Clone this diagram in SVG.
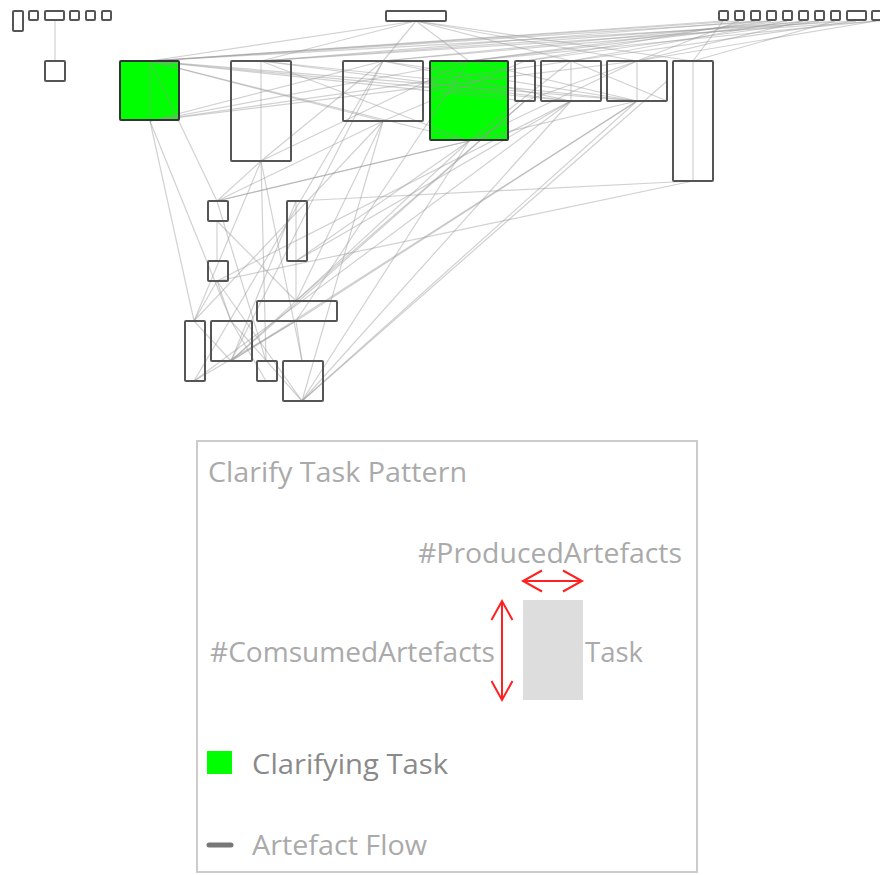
<svg xmlns="http://www.w3.org/2000/svg" width="880" height="875" viewBox="0 0 880 875">
<style>
.n{fill:#fff;fill-opacity:0;stroke:#555;stroke-width:2}
.g{fill:#00ff00;stroke:#333;stroke-width:2}
.e line{stroke:#999;stroke-opacity:0.45;stroke-width:1.2}
.t{font-family:"Open Sans","Noto Sans",sans-serif;font-size:28px;fill:#aaa}
.r{stroke:#ff2020;stroke-width:2;fill:none}
</style>
<rect width="880" height="875" fill="#fff"/>
<g id="nodes-fill">
<rect id="fill-g1" x="120" y="61" width="59" height="59" fill="#00ff00"/>
<rect id="fill-g2" x="430" y="61" width="78" height="79" fill="#00ff00"/>
</g>
<g id="connectors" class="e">
<line x1="55" y1="21" x2="55" y2="61"/>
<line x1="416" y1="21" x2="150" y2="61"/>
<line x1="416" y1="21" x2="261" y2="61"/>
<line x1="416" y1="21" x2="383" y2="61"/>
<line x1="416" y1="21" x2="469" y2="61"/>
<line x1="416" y1="21" x2="571" y2="61"/>
<line x1="416" y1="21" x2="637" y2="61"/>
<line x1="416" y1="21" x2="693" y2="61"/>
<line x1="723" y1="21" x2="150" y2="61"/>
<line x1="739" y1="21" x2="150" y2="61"/>
<line x1="755" y1="21" x2="261" y2="61"/>
<line x1="771" y1="21" x2="150" y2="61"/>
<line x1="787" y1="21" x2="383" y2="61"/>
<line x1="803" y1="21" x2="469" y2="61"/>
<line x1="819" y1="21" x2="261" y2="61"/>
<line x1="835" y1="21" x2="383" y2="61"/>
<line x1="856" y1="21" x2="150" y2="61"/>
<line x1="876" y1="21" x2="469" y2="61"/>
<line x1="856" y1="21" x2="571" y2="61"/>
<line x1="876" y1="21" x2="637" y2="61"/>
<line x1="835" y1="21" x2="693" y2="61"/>
<line x1="819" y1="21" x2="525" y2="61"/>
<line x1="803" y1="21" x2="637" y2="61"/>
<line x1="787" y1="21" x2="571" y2="61"/>
<line x1="771" y1="21" x2="469" y2="61"/>
<line x1="755" y1="21" x2="525" y2="61"/>
<line x1="739" y1="21" x2="637" y2="61"/>
<line x1="723" y1="21" x2="693" y2="61"/>
<line x1="880" y1="21" x2="261" y2="61"/>
<line x1="150" y1="61" x2="150" y2="121"/>
<line x1="261" y1="61" x2="261" y2="161"/>
<line x1="571" y1="61" x2="571" y2="101"/>
<line x1="637" y1="61" x2="637" y2="101"/>
<line x1="693" y1="61" x2="693" y2="181"/>
<line x1="296" y1="201" x2="296" y2="261"/>
<line x1="150" y1="61" x2="383" y2="121"/>
<line x1="150" y1="61" x2="469" y2="141"/>
<line x1="150" y1="61" x2="525" y2="101"/>
<line x1="150" y1="61" x2="571" y2="101"/>
<line x1="150" y1="61" x2="637" y2="101"/>
<line x1="150" y1="121" x2="383" y2="61"/>
<line x1="150" y1="121" x2="469" y2="61"/>
<line x1="150" y1="121" x2="571" y2="61"/>
<line x1="150" y1="121" x2="637" y2="61"/>
<line x1="261" y1="61" x2="469" y2="141"/>
<line x1="261" y1="61" x2="571" y2="101"/>
<line x1="261" y1="61" x2="637" y2="101"/>
<line x1="261" y1="161" x2="383" y2="61"/>
<line x1="261" y1="161" x2="469" y2="61"/>
<line x1="383" y1="61" x2="571" y2="101"/>
<line x1="383" y1="61" x2="637" y2="101"/>
<line x1="383" y1="121" x2="525" y2="61"/>
<line x1="469" y1="61" x2="637" y2="101"/>
<line x1="469" y1="141" x2="571" y2="61"/>
<line x1="469" y1="141" x2="637" y2="61"/>
<line x1="525" y1="101" x2="637" y2="61"/>
<line x1="571" y1="61" x2="667" y2="101"/>
<line x1="150" y1="61" x2="217" y2="201"/>
<line x1="150" y1="121" x2="194" y2="321"/>
<line x1="150" y1="121" x2="231" y2="321"/>
<line x1="261" y1="161" x2="217" y2="201"/>
<line x1="261" y1="161" x2="302" y2="361"/>
<line x1="261" y1="161" x2="266" y2="361"/>
<line x1="383" y1="121" x2="217" y2="201"/>
<line x1="383" y1="121" x2="194" y2="321"/>
<line x1="383" y1="121" x2="296" y2="301"/>
<line x1="383" y1="121" x2="302" y2="401"/>
<line x1="383" y1="61" x2="231" y2="361"/>
<line x1="383" y1="61" x2="194" y2="381"/>
<line x1="469" y1="141" x2="217" y2="201"/>
<line x1="469" y1="141" x2="231" y2="361"/>
<line x1="469" y1="141" x2="302" y2="401"/>
<line x1="469" y1="141" x2="296" y2="261"/>
<line x1="469" y1="61" x2="296" y2="321"/>
<line x1="525" y1="101" x2="296" y2="301"/>
<line x1="525" y1="101" x2="231" y2="361"/>
<line x1="571" y1="101" x2="302" y2="401"/>
<line x1="571" y1="101" x2="194" y2="381"/>
<line x1="571" y1="101" x2="217" y2="281"/>
<line x1="571" y1="101" x2="296" y2="261"/>
<line x1="637" y1="101" x2="302" y2="401"/>
<line x1="637" y1="101" x2="231" y2="361"/>
<line x1="637" y1="101" x2="296" y2="321"/>
<line x1="637" y1="101" x2="217" y2="201"/>
<line x1="667" y1="81" x2="302" y2="401"/>
<line x1="693" y1="181" x2="296" y2="201"/>
<line x1="693" y1="181" x2="217" y2="281"/>
<line x1="217" y1="221" x2="217" y2="261"/>
<line x1="296" y1="261" x2="296" y2="301"/>
<line x1="217" y1="281" x2="194" y2="321"/>
<line x1="217" y1="281" x2="231" y2="321"/>
<line x1="217" y1="201" x2="266" y2="361"/>
<line x1="217" y1="221" x2="296" y2="301"/>
<line x1="261" y1="161" x2="194" y2="321"/>
<line x1="296" y1="321" x2="231" y2="361"/>
<line x1="296" y1="321" x2="302" y2="361"/>
<line x1="296" y1="321" x2="194" y2="381"/>
<line x1="231" y1="321" x2="302" y2="401"/>
<line x1="194" y1="321" x2="231" y2="361"/>
<line x1="217" y1="281" x2="302" y2="401"/>
<line x1="296" y1="201" x2="231" y2="361"/>
<line x1="231" y1="321" x2="266" y2="381"/>
</g>
<g id="nodes">
<rect id="t1" class="n" x="13" y="11" width="10" height="20" rx="1"/>
<rect id="t2" class="n" x="29" y="11" width="9" height="9" rx="1"/>
<rect id="t3" class="n" x="45" y="11" width="19" height="9" rx="1"/>
<rect id="t4" class="n" x="70" y="11" width="9" height="9" rx="1"/>
<rect id="t5" class="n" x="86" y="11" width="9" height="9" rx="1"/>
<rect id="t6" class="n" x="102" y="11" width="9" height="9" rx="1"/>
<rect id="m" class="n" x="386" y="11" width="60" height="10" rx="1"/>
<rect id="r1" class="n" x="719" y="11" width="9" height="9" rx="1"/>
<rect id="r2" class="n" x="735" y="11" width="9" height="9" rx="1"/>
<rect id="r3" class="n" x="751" y="11" width="9" height="9" rx="1"/>
<rect id="r4" class="n" x="767" y="11" width="9" height="9" rx="1"/>
<rect id="r5" class="n" x="783" y="11" width="9" height="9" rx="1"/>
<rect id="r6" class="n" x="799" y="11" width="9" height="9" rx="1"/>
<rect id="r7" class="n" x="815" y="11" width="9" height="9" rx="1"/>
<rect id="r8" class="n" x="831" y="11" width="9" height="9" rx="1"/>
<rect id="r9" class="n" x="847" y="11" width="19" height="9" rx="1"/>
<rect id="r10" class="n" x="872" y="11" width="12" height="9" rx="1"/>
<rect id="a" class="n" x="45" y="61" width="20" height="20" rx="1"/>
<rect id="g1" class="n" style="stroke:#333" x="120" y="61" width="59" height="59" rx="1"/>
<rect id="b" class="n" x="231" y="61" width="60" height="100" rx="1"/>
<rect id="c" class="n" x="343" y="61" width="80" height="60" rx="1"/>
<rect id="g2" class="n" style="stroke:#333" x="430" y="61" width="78" height="79" rx="1"/>
<rect id="d" class="n" x="515" y="61" width="20" height="40" rx="1"/>
<rect id="e" class="n" x="541" y="61" width="60" height="40" rx="1"/>
<rect id="f" class="n" x="607" y="61" width="60" height="40" rx="1"/>
<rect id="h" class="n" x="673" y="61" width="40" height="120" rx="1"/>
<rect id="i" class="n" x="208" y="201" width="20" height="20" rx="1"/>
<rect id="j" class="n" x="287" y="201" width="20" height="60" rx="1"/>
<rect id="k" class="n" x="208" y="261" width="20" height="20" rx="1"/>
<rect id="l" class="n" x="257" y="301" width="80" height="20" rx="1"/>
<rect id="nn" class="n" x="185" y="321" width="20" height="60" rx="1"/>
<rect id="o" class="n" x="211" y="321" width="41" height="40" rx="1"/>
<rect id="p" class="n" x="257" y="361" width="20" height="20" rx="1"/>
<rect id="q" class="n" x="283" y="361" width="40" height="40" rx="1"/>
</g>
<g id="legend">
<rect x="197" y="441" width="500" height="431" fill="none" stroke="#ccc" stroke-width="2"/>
<text class="t" x="208" y="482" textLength="259" lengthAdjust="spacingAndGlyphs">Clarify Task Pattern</text>
<text class="t" x="418" y="563" textLength="264" lengthAdjust="spacingAndGlyphs">#ProducedArtefacts</text>
<text class="t" x="210" y="662" textLength="285" lengthAdjust="spacingAndGlyphs">#ComsumedArtefacts</text>
<text class="t" x="585" y="662" textLength="58" lengthAdjust="spacingAndGlyphs">Task</text>
<rect x="523" y="600" width="60" height="100" fill="#ddd"/>
<g class="r">
<line x1="502" y1="601" x2="502" y2="700"/>
<polyline points="491.5,620 502,601 512.5,620"/>
<polyline points="491.5,681 502,700 512.5,681"/>
<line x1="523" y1="581" x2="582" y2="581"/>
<polyline points="542,570.5 523,581 542,591.5"/>
<polyline points="563,570.5 582,581 563,591.5"/>
</g>
<rect x="207" y="751" width="25" height="23" fill="#00ff00"/>
<text class="t" x="252" y="774" textLength="196" lengthAdjust="spacingAndGlyphs" style="fill:#8a8a8a">Clarifying Task</text>
<line x1="209" y1="845" x2="231" y2="845" stroke="#777" stroke-width="5" stroke-linecap="round"/>
<text class="t" x="252" y="855" textLength="175" lengthAdjust="spacingAndGlyphs">Artefact Flow</text>
</g>
</svg>
